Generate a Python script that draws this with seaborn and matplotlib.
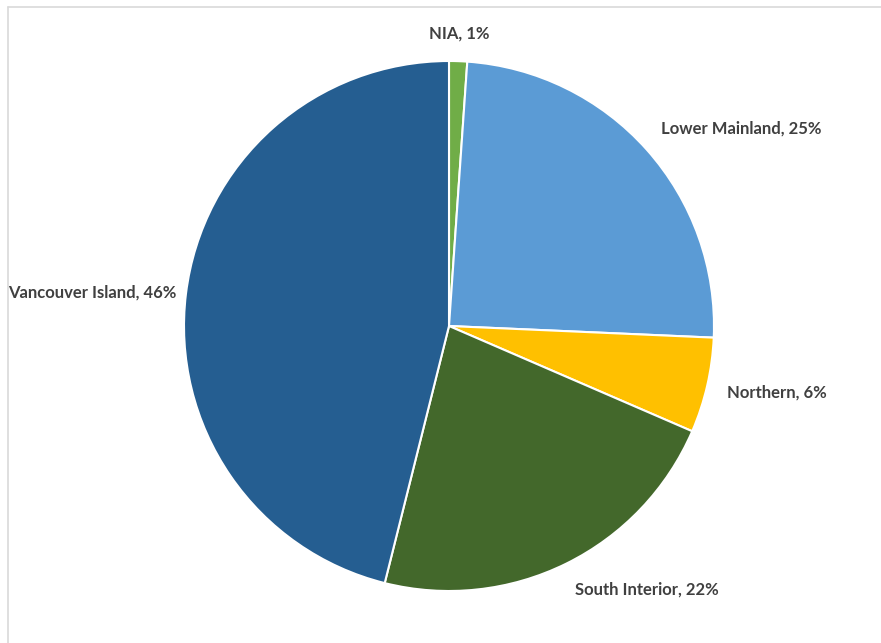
import numpy as np
import matplotlib
matplotlib.use("Agg")
import matplotlib.pyplot as plt
from matplotlib.lines import Line2D
import seaborn as sns

# Data
regions = ["NIA", "Lower Mainland", "Northern", "South Interior", "Vancouver Island"]
shares = [1.1, 24.6, 5.8, 22.4, 46.1]
label_pct = [1, 25, 6, 22, 46]
colors = ["#70AD47", "#5B9BD5", "#FFC000", "#43682B", "#255E91"]

sns.set_theme(style="white")
plt.rcParams['font.family'] = ['Lato', 'DejaVu Sans']

W, H = 881, 643
fig = plt.figure(figsize=(W / 100, H / 100), dpi=100)
fig.patch.set_facecolor("white")

cx, cy, r = 449, 326, 265
ax = fig.add_axes([(cx - r) / W, (H - cy - r) / H, 2 * r / W, 2 * r / H])
wedges, _ = ax.pie(shares, colors=colors, startangle=90, counterclock=False,
                   wedgeprops=dict(edgecolor="white", linewidth=1.5))
ax.set_xlim(-1, 1)
ax.set_ylim(-1, 1)
ax.set_aspect("equal")
ax.axis("off")

# Labels placed outside end of each slice
total = sum(shares)
cum = 0.0
for name, val, pct in zip(regions, shares, label_pct):
    mid = (cum + val / 2) / total * 2 * np.pi
    cum += val
    s, c = np.sin(mid), np.cos(mid)
    if abs(s) < 0.2:
        ha = "center"
    elif s > 0:
        ha = "left"
    else:
        ha = "right"
    if c > 0.5:
        va = "bottom"
    elif c < -0.5:
        va = "top"
    else:
        va = "center"
    rr = 1.035 if s < -0.95 else 1.075
    ax.text(rr * s, rr * c - (0.01 if va == "center" and s > 0 else 0),
            f"{name}, {pct}%", ha=ha, va=va,
            fontsize=12, fontweight="bold", color="#404040", clip_on=False)

# Chart area border (top and left visible)
fig.add_artist(Line2D([7.5 / W, 1], [1 - 6.5 / H, 1 - 6.5 / H],
                      transform=fig.transFigure, color="#D9D9D9", lw=1.2))
fig.add_artist(Line2D([7.5 / W, 7.5 / W], [0, 1 - 6.5 / H],
                      transform=fig.transFigure, color="#D9D9D9", lw=1.2))

fig.savefig("out.png", dpi=100, facecolor="white")
